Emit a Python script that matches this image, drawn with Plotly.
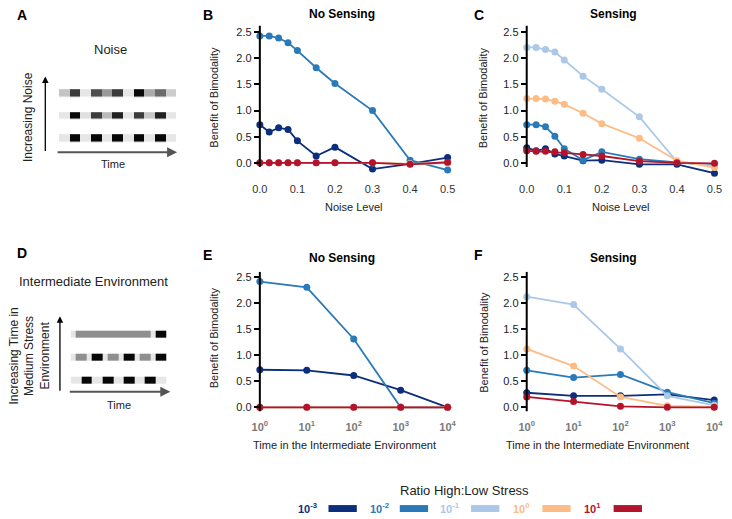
import plotly.graph_objects as go

# The page adds an 8px body margin, so the figure is drawn 8px smaller and every
# reference pixel position is shifted by that margin in pxx/pxy below.
PAGE_MARGIN = 8
W, H = 732 - PAGE_MARGIN, 519 - PAGE_MARGIN

# ---------------- data ----------------
noise_levels = [0, 0.025, 0.05, 0.075, 0.1, 0.15, 0.2, 0.3, 0.4, 0.5]
time_intermediate = [1, 10, 100, 1000, 10000]
time_tick_vals = [1, 10, 100, 1000, 10000]
time_tick_text = ["<b>10<sup>0</sup></b>", "<b>10<sup>1</sup></b>", "<b>10<sup>2</sup></b>",
                  "<b>10<sup>3</sup></b>", "<b>10<sup>4</sup></b>"]
benefit_ticks = [0, 0.5, 1.0, 1.5, 2.0, 2.5]
noise_ticks = [0, 0.1, 0.2, 0.3, 0.4, 0.5]

ratio_labels = ["10<sup>-3</sup>", "10<sup>-2</sup>", "10<sup>-1</sup>", "10<sup>0</sup>", "10<sup>1</sup>"]
ratio_colors = ["#0c2f7d", "#2a7ab9", "#abc8e9", "#fdbc85", "#b3142b"]

# Panel B: noise, no sensing (one list per ratio)
noise_nosense_r3 = [0.73, 0.59, 0.67, 0.64, 0.42, 0.13, 0.30, -0.12, -0.02, 0.10]
noise_nosense_r2 = [2.43, 2.43, 2.39, 2.30, 2.15, 1.82, 1.52, 1.00, 0.05, -0.14]
noise_nosense_r1 = [0.0, 0.0, 0.0, 0.0, 0.0, 0.0, 0.0, 0.0, -0.02, -0.01]
noise_nosense_r0 = [0.0, 0.0, 0.0, 0.0, 0.0, 0.0, 0.0, 0.0, -0.02, 0.0]
noise_nosense_p1 = [0.0, 0.0, 0.0, 0.0, 0.0, 0.0, 0.0, 0.0, -0.03, 0.01]

# Panel C: noise, sensing
noise_sense_r3 = [0.29, 0.23, 0.27, 0.17, 0.13, 0.04, 0.05, -0.03, -0.03, -0.20]
noise_sense_r2 = [0.73, 0.73, 0.69, 0.51, 0.27, 0.05, 0.21, 0.07, 0.01, -0.05]
noise_sense_r1 = [2.21, 2.21, 2.17, 2.12, 1.97, 1.66, 1.41, 0.88, 0.02, -0.06]
noise_sense_r0 = [1.23, 1.23, 1.22, 1.18, 1.12, 0.95, 0.75, 0.47, 0.04, -0.09]
noise_sense_p1 = [0.23, 0.22, 0.22, 0.21, 0.19, 0.16, 0.13, 0.03, 0.00, -0.01]

# Panel E: intermediate environment, no sensing
env_nosense_r3 = [0.72, 0.71, 0.61, 0.33, 0.0]
env_nosense_r2 = [2.41, 2.30, 1.31, 0.0, 0.0]
env_nosense_r1 = [0.0, 0.0, 0.0, 0.0, 0.0]
env_nosense_r0 = [0.0, 0.0, 0.0, 0.0, 0.0]
env_nosense_p1 = [0.0, 0.0, 0.0, 0.0, 0.0]

# Panel F: intermediate environment, sensing
env_sense_r3 = [0.28, 0.22, 0.22, 0.25, 0.14]
env_sense_r2 = [0.71, 0.57, 0.63, 0.29, 0.08]
env_sense_r1 = [2.12, 1.97, 1.12, 0.22, 0.04]
env_sense_r0 = [1.12, 0.79, 0.20, 0.03, 0.01]
env_sense_p1 = [0.20, 0.11, 0.02, 0.0, 0.0]

# Schematic grey levels (0 = black, 1 = white); rows listed bottom -> top
noise_low = [0.9, 0.03, 0.9, 0.03, 0.9, 0.03, 0.9, 0.03, 0.9, 0.03, 0.9]
noise_mid = [0.9, 0.04, 0.88, 0.24, 0.73, 0.13, 0.9, 0.23, 0.78, 0.13, 0.9]
noise_high = [0.77, 0.23, 0.9, 0.31, 0.6, 0.23, 0.9, 0.04, 0.67, 0.42, 0.8]

env_short = [0.9, 0.9, 0.03, 0.03, 0.9, 0.9, 0.03, 0.03, 0.9, 0.9, 0.03, 0.03, 0.9, 0.9, 0.03, 0.03, 0.9, 0.9]
env_mid = [0.9, 0.56, 0.56, 0.9, 0.03, 0.03, 0.9, 0.56, 0.56, 0.9, 0.03, 0.03, 0.9, 0.56, 0.56, 0.9, 0.03, 0.03]
env_long = [0.9, 0.56, 0.56, 0.56, 0.56, 0.56, 0.56, 0.56, 0.56, 0.56, 0.56, 0.56, 0.56, 0.56, 0.56, 0.9, 0.03, 0.03]

# ---------------- helpers ----------------
FONT = "Liberation Sans, Arial, Helvetica, sans-serif"


def pxx(x):
    return (x - PAGE_MARGIN) / W


def pxy(y):
    return 1 - (y - PAGE_MARGIN) / H


fig = go.Figure()

panels = [
    ("x", "y", noise_levels, [noise_nosense_r3, noise_nosense_r2, noise_nosense_r1, noise_nosense_r0, noise_nosense_p1]),
    ("x2", "y2", noise_levels, [noise_sense_r3, noise_sense_r2, noise_sense_r1, noise_sense_r0, noise_sense_p1]),
    ("x3", "y3", time_intermediate, [env_nosense_r3, env_nosense_r2, env_nosense_r1, env_nosense_r0, env_nosense_p1]),
    ("x4", "y4", time_intermediate, [env_sense_r3, env_sense_r2, env_sense_r1, env_sense_r0, env_sense_p1]),
]

for xa, ya, xs, series in panels:
    for vals, col, lab in zip(series, ratio_colors, ratio_labels):
        fig.add_trace(go.Scatter(
            x=xs, y=vals, xaxis=xa, yaxis=ya, mode="lines+markers",
            line=dict(color=col, width=1.8),
            marker=dict(color=col, size=7),
            cliponaxis=False, showlegend=False, name=lab, hoverinfo="x+y"))

gray_scale = [[0, "#000000"], [1, "#ffffff"]]
fig.add_trace(go.Heatmap(
    z=[noise_low, noise_mid, noise_high], xaxis="x5", yaxis="y5",
    colorscale=gray_scale, zmin=0, zmax=1, showscale=False, ygap=15.5, hoverinfo="skip"))
fig.add_trace(go.Heatmap(
    z=[env_short, env_mid, env_long], xaxis="x6", yaxis="y6",
    colorscale=gray_scale, zmin=0, zmax=1, showscale=False, ygap=16, hoverinfo="skip"))

ytick = dict(tickvals=benefit_ticks, tickformat=".1f", ticks="outside", ticklen=5,
             tickwidth=1.5, tickcolor="black", showline=False, showgrid=False, zeroline=False,
             tickfont=dict(family=FONT, size=11, color="#222"))
xnoise = dict(tickvals=noise_ticks, tickformat=".1f", ticks="outside", ticklen=6,
              tickcolor="rgba(0,0,0,0)", showline=False, showgrid=False, zeroline=False,
              tickfont=dict(family=FONT, size=11, color="#333"))
xtime = dict(type="log", tickvals=time_tick_vals, ticktext=time_tick_text, ticks="outside",
             ticklen=5, tickcolor="rgba(0,0,0,0)", showline=False, showgrid=False, zeroline=False,
             tickfont=dict(family=FONT, size=11, color="#7a7a7a"))

top_dom = [pxy(173.2), pxy(24.6)]
bot_dom = [pxy(412.9), pxy(272.2)]

fig.update_layout(
    width=W, height=H, margin=dict(l=0, r=0, t=0, b=0),
    paper_bgcolor="white", plot_bgcolor="white",
    font=dict(family=FONT, color="#222"),
    xaxis=dict(domain=[pxx(257.7), pxx(450)], range=[0, 0.5], anchor="y", **xnoise),
    yaxis=dict(domain=top_dom, range=[-0.2, 2.63], anchor="x", **ytick),
    xaxis2=dict(domain=[pxx(531), pxx(723.3)], range=[0, 0.5], anchor="y2", **xnoise),
    yaxis2=dict(domain=top_dom, range=[-0.2, 2.63], anchor="x2", **ytick),
    xaxis3=dict(domain=[pxx(257.7), pxx(450)], range=[0, 4], anchor="y3", **xtime),
    yaxis3=dict(domain=bot_dom, range=[-0.08, 2.6], anchor="x3", **ytick),
    xaxis4=dict(domain=[pxx(531), pxx(723)], range=[0, 4], anchor="y4", **xtime),
    yaxis4=dict(domain=bot_dom, range=[-0.08, 2.6], anchor="x4", **ytick),
    xaxis5=dict(domain=[pxx(52), pxx(172)], range=[-0.5, 10.5], anchor="y5", visible=False),
    yaxis5=dict(domain=[pxy(149.9), pxy(81.6)], range=[-0.5, 2.5], anchor="x5", visible=False),
    xaxis6=dict(domain=[pxx(64), pxx(162)], range=[-0.5, 17.5], anchor="y6", visible=False),
    yaxis6=dict(domain=[pxy(392.5), pxy(323.5)], range=[-0.5, 2.5], anchor="x6", visible=False),
)

# y-axis lines (only across the visible span, like the reference)
shapes = []
for xa, ya, y0, y1 in [("x", "y", -0.08, 2.63), ("x2", "y2", -0.08, 2.63),
                       ("x3", "y3", -0.08, 2.6), ("x4", "y4", -0.08, 2.6)]:
    shapes.append(dict(type="line", xref=xa + " domain", yref=ya, x0=0, x1=0, y0=y0, y1=y1,
                       line=dict(color="black", width=2)))

annotations = []


def txt(text, x, y, size=11, bold=False, color="#222", angle=0, xanchor="center", yanchor="middle"):
    if bold:
        text = "<b>" + text + "</b>"
    annotations.append(dict(text=text, x=pxx(x), y=pxy(y), xref="paper", yref="paper",
                            showarrow=False, xanchor=xanchor, yanchor=yanchor, textangle=angle,
                            borderpad=0, font=dict(family=FONT, size=size, color=color)))


# panel letters
txt("A", 8, 14, size=14, bold=True, color="black", xanchor="left")
txt("B", 198, 14, size=14, bold=True, color="black", xanchor="left")
txt("C", 476, 14, size=14, bold=True, color="black", xanchor="left")
txt("D", 8, 253, size=14, bold=True, color="black", xanchor="left")
txt("E", 198, 255, size=14, bold=True, color="black", xanchor="left")
txt("F", 476, 255, size=14, bold=True, color="black", xanchor="left")

# panel titles
txt("No Sensing", 342, 13, size=12, bold=True, color="black")
txt("Sensing", 620, 13, size=12, bold=True, color="black")
txt("No Sensing", 342, 258, size=12, bold=True, color="black")
txt("Sensing", 620, 258, size=12, bold=True, color="black")

# axis titles
txt("Benefit of Bimodality", 211, 97, size=11, angle=-90)
txt("Benefit of Bimodality", 487, 97, size=11, angle=-90)
txt("Benefit of Bimodality", 211, 339, size=11, angle=-90)
txt("Benefit of Bimodality", 487, 343, size=11, angle=-90)
txt("Noise Level", 354, 207, size=11)
txt("Noise Level", 627, 207, size=11)
txt("Time in the Intermediate Environment", 344, 447, size=11)
txt("Time in the Intermediate Environment", 603, 447, size=11)

# schematic texts
txt("Noise", 105, 49, size=13)
txt("Increasing Noise", 21, 117, size=12, angle=-90)
txt("Time", 107, 164, size=11)
txt("Intermediate Environment", 87, 282, size=13)
txt("Increasing Time in<br>Medium Stress<br>Environment", 22, 357, size=12, angle=-90)
txt("Time", 113, 406, size=11)

# arrows (head position, tail offset in pixels)
for hx, hy, tx, ty, col, wd in [(38, 76, 38, 152, "black", 1.3), (173, 152, 52, 152, "#555555", 2),
                                (53, 317, 53, 393, "black", 1.3), (166, 393, 64, 393, "#555555", 2)]:
    annotations.append(dict(x=pxx(hx), y=pxy(hy), xref="paper", yref="paper",
                            ax=tx - hx, ay=ty - hy, axref="pixel", ayref="pixel",
                            showarrow=True, arrowhead=2, arrowsize=1, arrowwidth=wd,
                            arrowcolor=col, text=""))

# legend
txt("Ratio High:Low Stress", 467, 492, size=13)
for i, (lab, col) in enumerate(zip(ratio_labels, ratio_colors)):
    tx = 307 + i * 72.8
    rx = 328 + i * 73
    txt(lab, tx, 510, size=11, bold=True, color=col)
    shapes.append(dict(type="rect", xref="paper", yref="paper",
                       x0=pxx(rx), x1=pxx(rx + 29), y0=pxy(514), y1=pxy(507),
                       fillcolor=col, line=dict(width=0)))

fig.update_layout(shapes=shapes, annotations=annotations)

fig.write_html("out.html")
